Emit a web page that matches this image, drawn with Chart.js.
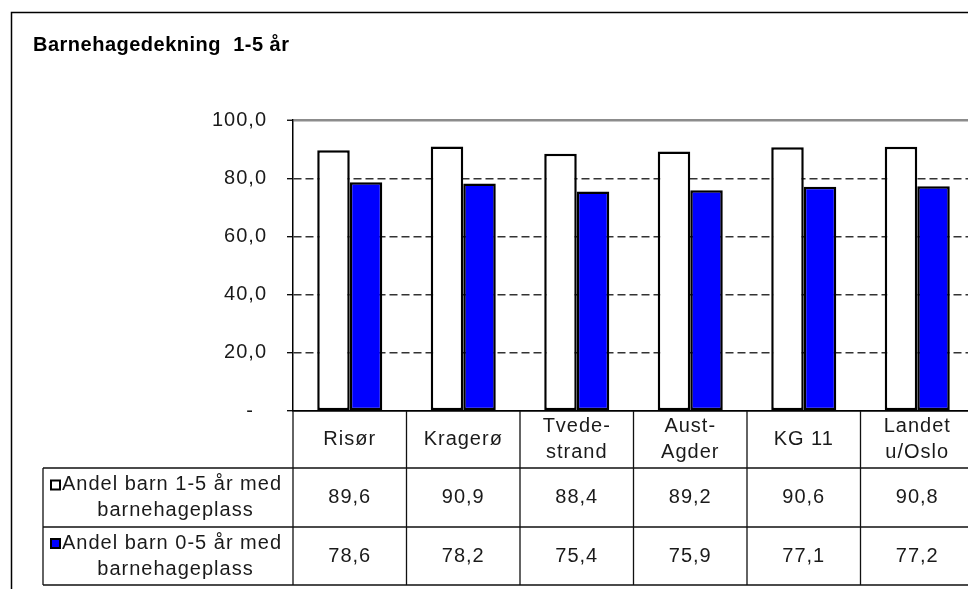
<!DOCTYPE html>
<html lang="no">
<head>
<meta charset="utf-8">
<title>Barnehagedekning 1-5 år</title>
<script src="https://cdn.jsdelivr.net/npm/chart.js@4.4.1/dist/chart.umd.min.js"></script>
<style>
  html, body { margin: 0; padding: 0; background: #fff; }
  #wrap { width: 968px; height: 589px; overflow: hidden; }
  canvas { display: block; }
</style>
</head>
<body>
<div id="wrap">
  <canvas id="chart" width="990" height="589"></canvas>
</div>
<script>
const chartTitle = 'Barnehagedekning  1-5 år';
const categories = [['Risør'], ['Kragerø'], ['Tvede-', 'strand'], ['Aust-', 'Agder'], ['KG 11'], ['Landet', 'u/Oslo']];
const seriesNames = [
  ['Andel barn 1-5 år med', 'barnehageplass'],
  ['Andel barn 0-5 år med', 'barnehageplass'],
];
const seriesColors = ['#ffffff', '#0000ff'];
const andel15 = [89.6, 90.9, 88.4, 89.2, 90.6, 90.8];
const andel05 = [78.6, 78.2, 75.4, 75.9, 77.1, 77.2];
const yTicks = [0, 20, 40, 60, 80, 100];

const FONT = '"Liberation Sans", Arial, sans-serif';
const TEXT = '#1a1a1a';

const fmt = (v) => (v === 0 ? '-  ' : v.toFixed(1).replace('.', ','));

// Excel-like letter spacing for every text on the canvas
const spacingPlugin = {
  id: 'spacing',
  beforeDraw(chart) {
    chart.ctx.letterSpacing = '1px';
  },
};

// title, outer frame and the data table under the plot
const tablePlugin = {
  id: 'table',
  afterDraw(chart) {
    const ctx = chart.ctx;
    const xs = chart.scales.x;
    const area = chart.chartArea;
    const half = xs.width / categories.length / 2;

    const rowTop = [area.bottom, area.bottom + 57, area.bottom + 116, area.bottom + 174];
    const leftX = 43;
    const lineH = 26;

    ctx.save();

    // outer frame
    ctx.strokeStyle = '#000';
    ctx.lineWidth = 1.5;
    ctx.strokeRect(11.5, 12.5, 975, 620);

    // title
    ctx.letterSpacing = '0.5px';
    ctx.fillStyle = '#000';
    ctx.font = 'bold 20px ' + FONT;
    ctx.textAlign = 'left';
    ctx.textBaseline = 'alphabetic';
    ctx.fillText(chartTitle, 33, 51);
    ctx.letterSpacing = '1px';

    // table grid
    ctx.strokeStyle = '#111';
    ctx.lineWidth = 1.3;
    ctx.beginPath();
    for (let i = 0; i <= categories.length; i++) {
      const x = xs.getPixelForValue(0) - half + i * half * 2;
      ctx.moveTo(x, rowTop[0]);
      ctx.lineTo(x, rowTop[3]);
    }
    ctx.moveTo(leftX, rowTop[1]);
    ctx.lineTo(leftX, rowTop[3]);
    for (let r = 1; r <= 3; r++) {
      ctx.moveTo(leftX, rowTop[r]);
      ctx.lineTo(area.right, rowTop[r]);
    }
    ctx.stroke();

    ctx.font = '20px ' + FONT;
    ctx.fillStyle = TEXT;
    ctx.textAlign = 'center';
    ctx.textBaseline = 'middle';

    // category header row
    categories.forEach((lines, i) => {
      const cx = xs.getPixelForValue(i);
      const cy = (rowTop[0] + rowTop[1]) / 2;
      lines.forEach((t, k) => {
        ctx.fillText(t, cx, cy + (k - (lines.length - 1) / 2) * lineH);
      });
    });

    // value rows with legend keys
    const values = [andel15, andel05];
    values.forEach((vals, r) => {
      const cy = (rowTop[r + 1] + rowTop[r + 2]) / 2;
      const names = seriesNames[r];
      const tx = (leftX + 15 + xs.left) / 2;
      names.forEach((t, k) => {
        const y = cy + (k - (names.length - 1) / 2) * lineH;
        ctx.fillStyle = TEXT;
        if (k === 0) {
          const w = ctx.measureText(t).width;
          const x0 = tx - 3.5 - w / 2;
          ctx.fillText(t, tx - 3.5, y);
          const kx = x0 - 11;
          ctx.fillStyle = seriesColors[r];
          ctx.fillRect(kx, y - 4, 9, 9);
          ctx.strokeStyle = '#000';
          ctx.lineWidth = 2;
          ctx.strokeRect(kx, y - 4, 9, 9);
        } else {
          ctx.fillText(t, tx, y);
        }
      });
      ctx.fillStyle = TEXT;
      vals.forEach((v, i) => {
        ctx.fillText(fmt(v), xs.getPixelForValue(i), cy);
      });
    });

    ctx.restore();
  },
};

const gridColor = (c) => {
  const v = c.tick ? c.tick.value : null;
  if (v === 100) return '#8c8c8c';
  if (v === 0) return '#000';
  return '#333';
};

new Chart(document.getElementById('chart'), {
  type: 'bar',
  data: {
    labels: categories,
    datasets: [
      {
        label: seriesNames[0].join(' '),
        data: andel15,
        backgroundColor: seriesColors[0],
        borderColor: '#000',
        borderWidth: 2.5,
        borderSkipped: false,
      },
      {
        label: seriesNames[1].join(' '),
        data: andel05,
        backgroundColor: seriesColors[1],
        borderColor: '#000',
        borderWidth: 2.5,
        borderSkipped: false,
      },
    ],
  },
  options: {
    responsive: false,
    animation: false,
    events: [],
    layout: {
      padding: { left: 0, top: 120, right: 16, bottom: 178 },
    },
    datasets: {
      bar: {
        categoryPercentage: 0.573,
        barPercentage: 1,
      },
    },
    scales: {
      x: {
        ticks: { display: false },
        grid: { display: false },
        border: { color: '#000', width: 1.5 },
        afterFit: (s) => { s.height = 0; },
      },
      y: {
        min: 0,
        max: 100,
        afterFit: (s) => { s.width = 293; },
        afterBuildTicks: (s) => { s.ticks = yTicks.map((v) => ({ value: v })); },
        ticks: {
          padding: 20,
          color: TEXT,
          font: { family: FONT, size: 20 },
          callback: (v) => fmt(v),
        },
        grid: {
          color: gridColor,
          lineWidth: (c) => (c.tick && c.tick.value === 100 ? 2.5 : 1.4),
          tickColor: '#000',
          tickLength: 6,
          tickWidth: 1.3,
        },
        border: {
          color: '#000',
          width: 1.5,
          dash: (c) => (c.tick && c.tick.value > 0 && c.tick.value < 100 ? [8, 4] : []),
        },
      },
    },
    plugins: {
      legend: { display: false },
      title: { display: false },
      tooltip: { enabled: false },
    },
  },
  plugins: [spacingPlugin, tablePlugin],
});
</script>
</body>
</html>
